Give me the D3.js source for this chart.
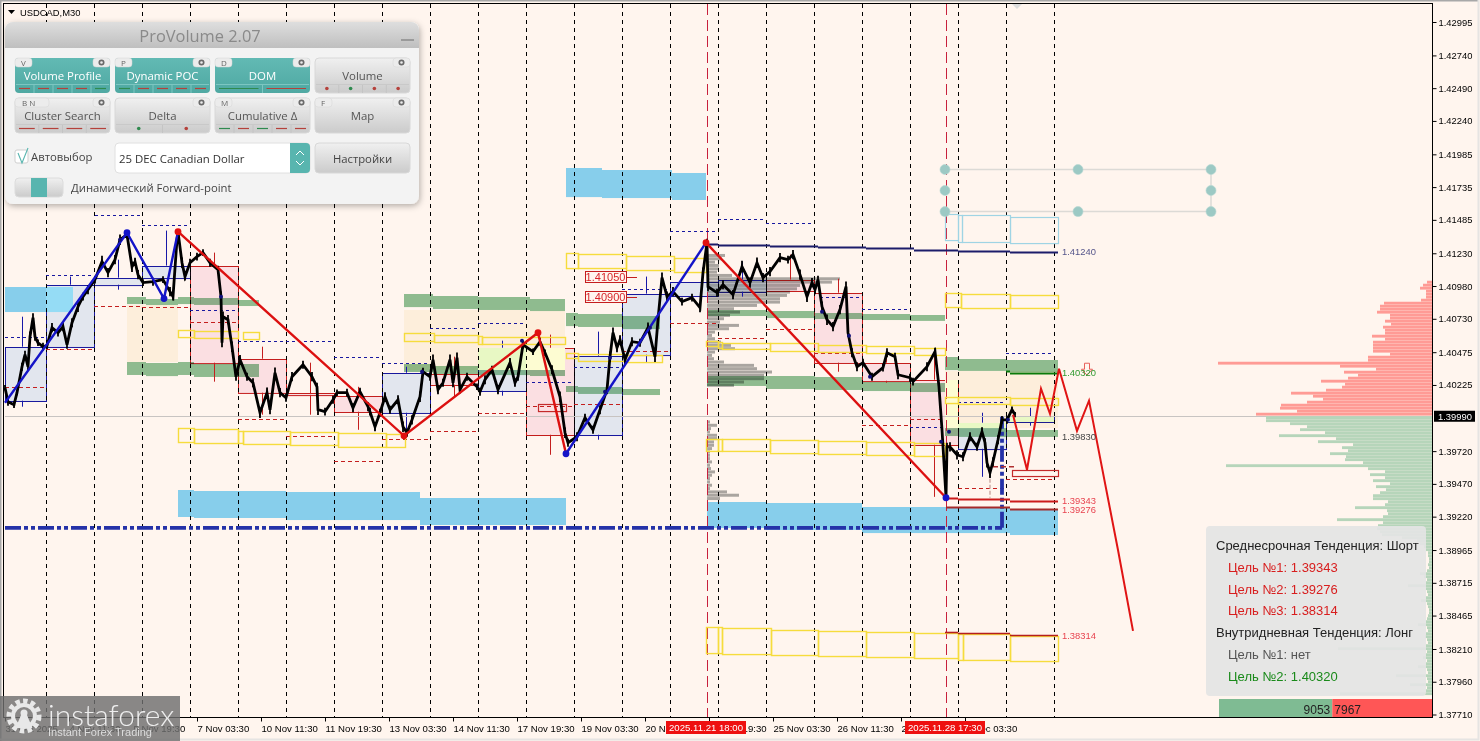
<!DOCTYPE html>
<html><head><meta charset="utf-8">
<script src="https://cdn.jsdelivr.net/npm/d3@7/dist/d3.min.js"></script>
<style>
html,body{margin:0;padding:0;background:#fff5ee;overflow:hidden}
svg{display:block}
text{font-family:"Liberation Sans",Arial,sans-serif}
.mul{mix-blend-mode:multiply}
</style></head><body>
<svg id="c" width="1480" height="741"></svg>
<script>
// ---------- axis values ----------
const priceTicks=[1.42995,1.42740,1.42490,1.42240,1.41985,1.41735,1.41485,1.41230,1.40980,1.40730,1.40475,1.40225,1.39720,1.39470,1.39220,1.38965,1.38715,1.38465,1.38210,1.37960,1.37710];
const timeTicks=[5,69,133,197,261,325,389,453,517,581,645,709,773,837,901,965];
const timeLabels=["31 Oct 2025","4 Nov 11:30","5 Nov 19:30","7 Nov 03:30","10 Nov 11:30","11 Nov 19:30","13 Nov 03:30","14 Nov 11:30","17 Nov 19:30","19 Nov 03:30","20 Nov 11:30","21 Nov 19:30","25 Nov 03:30","26 Nov 11:30","27 Nov 19:30","1 Dec 03:30"];
const dayBars=[46,94,142,190,238,286,334,382,430,478,526,574,622,670,718,766,814,862,910,958,1006,1054];
const markBars=[707,946];
const lastPrice=1.39990;
// ---------- price trace ----------
const closeBars=[5,8,14,17,22,25,28,30,33,35,38,43,47,52,58,63,67,72,78,83,88,95,102,108,115,120,127,132,135,138,143,153,163,170,173,177,178,182,185,190,197,203,210,218,221,222,223,228,232,236,240,247,253,260,267,270,275,280,286,292,303,312,317,318,325,333,337,347,353,360,368,370,375,380,385,390,398,403,407,412,420,423,430,433,438,443,450,453,457,460,467,477,480,485,492,498,510,515,518,523,533,540,545,552,560,565,568,577,585,593,600,607,610,613,617,620,625,632,640,648,655,658,662,667,673,682,692,700,703,707,708,717,723,733,742,750,757,763,770,780,788,793,800,807,812,815,818,822,827,833,840,846,848,852,857,863,872,883,887,895,898,910,913,927,935,939,942,946,947,950,957,963,970,977,982,985,987,990,993,998,1002,1007,1012,1015];
const closePrices=[1.40204,1.40097,1.40074,1.40166,1.40364,1.40456,1.40364,1.40593,1.40738,1.40593,1.40547,1.40517,1.40525,1.40662,1.40624,1.40670,1.40532,1.40700,1.40822,1.40899,1.40952,1.41029,1.41166,1.41082,1.41181,1.41334,1.41372,1.41128,1.41166,1.41067,1.41006,1.41013,1.41029,1.40937,1.40899,1.41334,1.41395,1.41158,1.41052,1.41158,1.41204,1.41235,1.41158,1.41105,1.40899,1.40547,1.40746,1.40723,1.40517,1.40288,1.40418,1.40288,1.40242,1.40013,1.40166,1.40036,1.40318,1.40166,1.40127,1.40288,1.40379,1.40288,1.40211,1.40036,1.40021,1.40112,1.40166,1.40166,1.40051,1.40173,1.40059,1.40021,1.39906,1.40013,1.40135,1.40036,1.40112,1.39906,1.39860,1.39959,1.40135,1.40326,1.40288,1.40418,1.40189,1.40242,1.40418,1.40242,1.40433,1.40189,1.40288,1.40211,1.40173,1.40265,1.40341,1.40189,1.40395,1.40242,1.40288,1.40532,1.40479,1.40555,1.40471,1.40341,1.40135,1.39860,1.39784,1.39830,1.39975,1.39883,1.40036,1.40189,1.40441,1.40624,1.40509,1.40570,1.40418,1.40555,1.40547,1.40662,1.40441,1.40723,1.41044,1.40899,1.40937,1.40861,1.40891,1.40815,1.41082,1.41311,1.40975,1.40929,1.40990,1.40914,1.41128,1.41006,1.41158,1.41044,1.41090,1.41197,1.41181,1.41220,1.41067,1.40899,1.41006,1.40952,1.41029,1.40822,1.40723,1.40670,1.40800,1.40975,1.40624,1.40471,1.40364,1.40395,1.40288,1.40357,1.40471,1.40441,1.40303,1.40280,1.40250,1.40364,1.40479,1.40211,1.39883,1.39371,1.39753,1.39753,1.39692,1.39677,1.39830,1.39753,1.39868,1.39784,1.39631,1.39555,1.39639,1.39807,1.39959,1.39959,1.40036,1.39998];
// half-height of the candle cluster at each trace point, in points of 0.00001
const clusterSpread=[20,30,25,20,30,30,25,40,35,30,25,30,25,35,30,35,30,35,40,30,35,30,45,35,35,40,30,40,30,35,25,30,25,35,30,40,20,40,30,30,30,25,30,30,40,35,40,35,40,30,35,30,35,40,40,35,40,35,30,35,30,35,30,40,30,30,25,30,35,30,35,30,35,30,35,30,35,40,30,35,40,30,30,40,35,30,40,35,40,30,30,25,30,35,30,35,35,30,30,30,25,30,25,35,40,40,30,35,30,30,35,35,40,40,35,35,40,35,30,40,40,45,40,40,35,30,30,35,40,30,35,30,35,35,45,40,40,35,35,35,30,35,40,40,35,35,30,40,40,35,35,40,30,35,35,30,30,30,35,30,35,30,30,35,30,30,30,20,30,35,35,35,35,30,35,35,35,40,35,35,30,30,25,20,10];
// ---------- session boxes [bar0,bar1,high,low] ----------
const blueBoxes=[[5,46,1.40517,1.40105],[46,94,1.40990,1.40517],[94,142,1.41044,1.40990],[142,190,1.41136,1.41044],[382,430,1.40318,1.40013],[478,526,1.40509,1.40181],[574,622,1.40448,1.39845],[622,670,1.40922,1.40456],[670,718,1.41013,1.40906],[718,766,1.41029,1.40937],[958,1006,1.39937,1.39738],[1006,1054,1.39982,1.39944]];
const redBoxes=[[190,238,1.41136,1.40395],[238,286,1.40425,1.40166],[286,334,1.40166,1.40150],[334,382,1.40143,1.40021],[430,478,1.40311,1.40227],[526,574,1.40509,1.39845],[766,814,1.41029,1.40945],[814,862,1.40929,1.40395],[862,910,1.40395,1.40257],[910,958,1.40265,1.39769]];
const blueWicks=[[22,1.40746,1.40517],[22,1.40105,1.40059],[70,1.41052,1.40990],[118,1.41181,1.41044],[118,1.40990,1.40952],[166,1.41403,1.41136],[406,1.40364,1.40318],[406,1.40013,1.39860],[502,1.40563,1.40509],[502,1.40181,1.40143],[598,1.40632,1.40448],[598,1.39845,1.39807],[646,1.41052,1.40922],[646,1.40456,1.40395],[742,1.41166,1.41029],[742,1.40937,1.40899],[982,1.40013,1.39937],[982,1.39738,1.39524],[1030,1.40051,1.39982],[1030,1.39944,1.39914]];
const redWicks=[[214,1.41235,1.41136],[214,1.40395,1.40250],[262,1.40517,1.40425],[262,1.40166,1.39998],[310,1.40395,1.40158],[310,1.40150,1.39998],[358,1.40211,1.40143],[358,1.40021,1.39883],[454,1.40441,1.40311],[454,1.40227,1.40135],[550,1.40609,1.40509],[550,1.39845,1.39692],[790,1.41220,1.41029],[838,1.41036,1.40929],[838,1.40395,1.40326],[886,1.40471,1.40395],[886,1.40257,1.40242],[934,1.40494,1.40265],[934,1.39769,1.39371]];
// ---------- dashed session levels [bar0,bar1,price] ----------
const blueDashes=[[5,45,1.40593],[46,94,1.41067],[95,142,1.41525],[142,190,1.41449],[190,238,1.40800],[238,334,1.40563],[334,382,1.40441],[382,430,1.40395],[430,478,1.40662],[478,526,1.40700],[526,574,1.40250],[574,622,1.40364],[622,670,1.40960],[670,718,1.41403],[718,766,1.41494],[766,814,1.41464],[820,860,1.40899],[862,910,1.40807],[910,944,1.39906],[958,1006,1.40097],[1006,1054,1.40471]];
const redDashes=[[5,46,1.40211],[46,94,1.40502],[94,142,1.40830],[142,190,1.40822],[190,238,1.40708],[238,286,1.39967],[286,334,1.39837],[334,382,1.39646],[382,430,1.39814],[430,478,1.39875],[478,526,1.40013],[526,574,1.40066],[574,622,1.40082],[622,670,1.40486],[670,718,1.40700],[718,766,1.40586],[766,814,1.40654],[814,862,1.40471],[862,910,1.39921],[910,944,1.39967],[958,1006,1.39440],[1006,1054,1.39509]];
// ---------- zones [bar0,bar1,high,low] ----------
const greenZones=[[127,146,1.40899,1.40845],[146,178,1.40884,1.40838],[178,194,1.40899,1.40845],[194,238,1.40891,1.40838],[238,259,1.40876,1.40830],[127,146,1.40402,1.40303],[146,178,1.40395,1.40295],[178,194,1.40402,1.40303],[194,238,1.40387,1.40288],[238,259,1.40387,1.40288],
[404,433,1.40922,1.40822],[433,478,1.40906,1.40807],[478,530,1.40899,1.40800],[530,565,1.40884,1.40792],[404,433,1.40387,1.40326],[433,478,1.40372,1.40311],[478,530,1.40357,1.40303],[530,565,1.40341,1.40295],
[566,578,1.40777,1.40677],[578,622,1.40769,1.40670],[622,660,1.40754,1.40654],[566,578,1.40219,1.40173],[578,622,1.40211,1.40158],[622,660,1.40196,1.40150],
[707,766,1.40800,1.40754],[766,815,1.40792,1.40738],[815,862,1.40777,1.40731],[862,910,1.40769,1.40723],[910,945,1.40761,1.40716],[707,766,1.40295,1.40219],[766,815,1.40295,1.40196],[815,862,1.40288,1.40189],[862,910,1.40250,1.40181],[910,945,1.40242,1.40173],
[945,958,1.40441,1.40341],[958,1006,1.40425,1.40334],[1006,1058,1.40418,1.40326],[945,958,1.39906,1.39837],[958,1006,1.39898,1.39830],[1006,1058,1.39883,1.39830]];
const creamZones=[[127,178,1.40838,1.40402],[404,530,1.40800,1.40341],[530,565,1.40792,1.40341],[945,1058,1.40334,1.39898]];
const skyZones=[[5,46,1.40975,1.40784],[566,602,1.41884,1.41662],[602,672,1.41869,1.41655],[672,706,1.41846,1.41640],[178,194,1.39425,1.39219],[194,286,1.39417,1.39211],[286,420,1.39410,1.39196],[420,566,1.39364,1.39158],[707,766,1.39333,1.39135],[766,862,1.39325,1.39119],[862,945,1.39295,1.39096],[945,1010,1.39295,1.39096],[1010,1058,1.39272,1.39081]];
// zone parts where a session box lies over it
const skyOverBlue=[[46,73,1.40975,1.40784]];
const limeOverBlue=[[478,526,1.40509,1.40341],[958,1006,1.39937,1.39898],[1006,1054,1.39982,1.39944]];
const paleOverRed=[[526,565,1.40509,1.40341],[945,958,1.40265,1.39898]];
const yellowBoxes=[[178,194,1.40647,1.40593],[194,238,1.40639,1.40586],[243,259,1.40632,1.40578],
[178,194,1.39898,1.39791],[194,238,1.39891,1.39784],[238,243,1.39875,1.39784],[243,290,1.39875,1.39776],[290,338,1.39868,1.39769],[338,386,1.39860,1.39754],[386,405,1.39853,1.39754],
[404,434,1.40624,1.40563],[434,478,1.40609,1.40555],[478,482,1.40601,1.40540],[482,565,1.40593,1.40540],
[566,578,1.41235,1.41120],[578,626,1.41227,1.41120],[626,674,1.41212,1.41105],[674,706,1.41197,1.41090],
[566,578,1.40471,1.40433],[578,626,1.40463,1.40410],[626,662,1.40456,1.40402],
[706,718,1.40563,1.40525],[718,722,1.40555,1.40509],[722,770,1.40547,1.40502],[770,818,1.40547,1.40486],[818,866,1.40532,1.40479],[866,914,1.40525,1.40471],[914,945,1.40509,1.40456],
[706,718,1.39814,1.39723],[718,722,1.39814,1.39723],[722,770,1.39814,1.39723],[770,818,1.39807,1.39707],[818,866,1.39799,1.39700],[866,914,1.39791,1.39692],[914,945,1.39784,1.39685],
[945,961,1.40929,1.40822],[961,1010,1.40922,1.40815],[1010,1058,1.40914,1.40815],
[945,958,1.40135,1.40089],[958,1010,1.40135,1.40082],[1010,1058,1.40127,1.40074],
[706,718,1.38379,1.38180],[718,722,1.38379,1.38180],[722,771,1.38371,1.38172],[771,818,1.38356,1.38165],[818,866,1.38348,1.38157],[866,914,1.38340,1.38149],[914,958,1.38333,1.38142],[958,963,1.38325,1.38127],[963,1010,1.38325,1.38127],[1010,1058,1.38310,1.38119]];
const paleBlueBoxes=[[945,958,1.41533,1.41334],[958,962,1.41525,1.41319],[962,1010,1.41525,1.41319],[1010,1058,1.41510,1.41311]];
const hollowRedBoxes=[[538,566,1.40082,1.40028],[1012,1058,1.39578,1.39532]];
// ---------- target levels [bar0,bar1,price] ----------
const navyLevel=[[706,718,1.41304],[718,770,1.41296],[770,818,1.41288],[818,866,1.41281],[866,914,1.41273],[914,958,1.41258],[958,1010,1.41250],[1010,1058,1.41240]];
const target1Level=[[946,958,1.39364],[958,1010,1.39356],[1010,1058,1.39343]];
const target2Level=[[946,958,1.39295],[958,1010,1.39290],[1010,1058,1.39276]];
const target3Level=[[945,958,1.38340],[958,1010,1.38333],[1010,1058,1.38314]];
const greenLevel=[[1006,1010,1.40334],[1010,1058,1.40320]];
const levelLabels=[["1.41240",1.41240,"#55558a"],["1.40320",1.40320,"#2f9a2f"],["1.39830",1.39830,"#444444"],["1.39343",1.39343,"#e8434f"],["1.39276",1.39276,"#e8434f"],["1.38314",1.38314,"#e8434f"]];
// ---------- wave structure ----------
const waveBlue1=[[5,1.40089],[127,1.41387],[164,1.40884],[178,1.41395]];
const waveRed1=[[178,1.41395],[404,1.39837],[538,1.40624],[566,1.39700]];
const waveBlue2=[[566,1.39700],[706,1.41311]];
const waveRed2=[[706,1.41311],[946,1.39364]];
const forecast=[[1013,1.39998],[1027,1.39578],[1041,1.40196],[1050,1.40005],[1059,1.40349],[1077,1.39875],[1089,1.40105],[1118,1.38965],[1133,1.38348]];
const waveDotsBlue=[[127,1.41387],[164,1.40884],[566,1.39700],[946,1.39364]];
const waveDotsRed=[[178,1.41395],[404,1.39837],[538,1.40624],[706,1.41311]];
const smallDots=[[120,1.41334],[221,1.40899],[422,1.40326],[522,1.40563],[605,1.40173],[610,1.40433],[650,1.40662],[822,1.40784],[849,1.40601],[870,1.40288],[941,1.39791],[949,1.39868],[1008,1.39959]];
// ---------- volume profiles ----------
const redVols=[176,135,152,151,125,109,119,141,106,90,87,111,84,74,88,56,92,214,64,64,42,59,59,59,59,47,60,47,47,49,41,47,42,42,55,52,52,48,11,6,6,6,12,9,5];
const greenVols=[166,166,142,125,132,107,153,96,114,79,90,84,102,86,87,69,206,64,47,62,47,59,42,56,46,52,59,59,44,47,77,45,44,49,95,49,54,55,52,50,30,15,12,8,6,4,4,3,3,4,3,5,12,8,5,6,24,6,5,4,6,11,5,4,3,3,4,5,6,14,5,4,6,7,5,4,6,94,5,6,9,5,6,14,5,4,36,5,4,22,5,6,92];
const grayVols=[18,15,8,12,12,10,25,133,125,93,90,83,80,73,73,50,27,33,23,17,13,32,22,8,5,8,14,24,28,8,5,7,17,47,50,65,57,57,37,27,0,0,0,0,0,0,0,0,0,0,3,10,4,3,10,10,7,7,5,3,3,3,5,3,4,8,5,3,3,5,3,20,32,13];
const buyVolume=9053, sellVolume=7967;
// ---------- info text ----------
const infoLines=[["Среднесрочная Тенденция: Шорт","#222",0],["Цель №1: 1.39343","#d81e1e",1],["Цель №2: 1.39276","#d81e1e",1],["Цель №3: 1.38314","#d81e1e",1],["Внутридневная Тенденция: Лонг","#222",0],["Цель №1: нет","#555",1],["Цель №2: 1.40320","#1a8a1a",1]];

// ---------- scales ----------
const svg=d3.select("#c");
const x=d3.scaleLinear().domain([5,1432]).range([5,1432]);
const y=d3.scaleLinear().domain([1.37710,1.42995]).range([714.5,22]);
const priceStep=(y.domain()[1]-y.domain()[0])/(y.range()[0]-y.range()[1])*3;
const volX=d3.scaleLinear().domain([0,300]).range([0,300]);
const splitX=d3.scaleLinear().domain([0,buyVolume+sellVolume]).range([1219,1432]);

function rects(g,data,fill,stroke,sw,cls){
  g.selectAll(null).data(data).join("rect").attr("class",cls||null)
   .attr("x",d=>x(d[0])+(stroke?.5:0)).attr("y",d=>Math.round(y(d[2]))+(stroke?.5:0))
   .attr("width",d=>x(d[1])-x(d[0])).attr("height",d=>y(d[3])-y(d[2]))
   .attr("fill",fill).attr("stroke",stroke||"none").attr("stroke-width",sw||0);
}
function hlines(g,data,color,sw,dash){
  g.selectAll(null).data(data).join("line")
   .attr("x1",d=>x(d[0])).attr("x2",d=>x(d[1]))
   .attr("y1",d=>Math.round(y(d[2]))+.5).attr("y2",d=>Math.round(y(d[2]))+.5)
   .attr("stroke",color).attr("stroke-width",sw).attr("stroke-dasharray",dash||null);
}
function wicks(g,data,color){
  g.selectAll(null).data(data).join("line")
   .attr("x1",d=>x(d[0])+.5).attr("x2",d=>x(d[0])+.5)
   .attr("y1",d=>y(d[1])).attr("y2",d=>y(d[2]))
   .attr("stroke",color).attr("stroke-width",1);
}
const line=d3.line().x(d=>x(d[0])).y(d=>y(d[1]));

svg.append("rect").attr("width",1480).attr("height",741).attr("fill","#fff5ee");
const plot=svg.append("g");

// zones
rects(plot.append("g"),creamZones,"#fdeedb");
rects(plot.append("g"),skyZones,"#87ceeb");
// internal profile
const gray=plot.append("g");
gray.selectAll("rect").data(grayVols).join("rect")
  .attr("x",x(707)).attr("y",(d,i)=>y(1.41240)+2+i*3.33).attr("width",d=>volX(d)).attr("height",3)
  .attr("fill","#aaa5a0");
rects(plot.append("g").attr("class","mul"),greenZones,"#8fc399");

// session boxes
const boxG=plot.append("g");
rects(boxG,blueBoxes,"#e2f0ff","#1818a8",1,"mul");
rects(boxG,redBoxes,"#fbe9f3","#c41e1e",1,"mul");
rects(plot.append("g"),skyOverBlue,"#95dcf5");
rects(plot.append("g"),limeOverBlue,"#e8f8c4");
rects(plot.append("g"),paleOverRed,"#fdfcd2");
wicks(boxG,blueWicks,"#1818a8");
wicks(boxG,redWicks,"#c41e1e");

// current price line
plot.append("line").attr("x1",5).attr("x2",1432).attr("y1",Math.round(y(lastPrice))+.5).attr("y2",Math.round(y(lastPrice))+.5).attr("stroke","#c8c4c2");

// day separators
plot.append("g").selectAll("line").data(dayBars).join("line")
  .attr("x1",d=>x(d)+.5).attr("x2",d=>x(d)+.5).attr("y1",4).attr("y2",717)
  .attr("stroke","#000").attr("stroke-dasharray","4 4");
plot.append("g").selectAll("line").data(markBars).join("line")
  .attr("x1",d=>x(d)+.5).attr("x2",d=>x(d)+.5).attr("y1",4).attr("y2",717)
  .attr("stroke","#c8203c").attr("stroke-dasharray","11 5").attr("stroke-width",1);

// dashed session levels
hlines(plot.append("g"),blueDashes,"#1818a0",1,"3 3");
hlines(plot.append("g"),redDashes,"#c41e1e",1,"4 3");

// outlines
rects(plot.append("g"),yellowBoxes,"none","#f6dc3c",1.4);
rects(plot.append("g"),paleBlueBoxes,"none","#9fd4e4",1.2);
rects(plot.append("g"),hollowRedBoxes,"none","#c42a2a",1.2);

// big dash-dot support
plot.append("line").attr("x1",x(5)).attr("x2",x(1002)).attr("y1",y(1.39135)).attr("y2",y(1.39135))
  .attr("stroke","#2532a8").attr("stroke-width",3.8).attr("stroke-dasharray","16 3 4 3 4 3");
plot.append("line").attr("x1",x(1002)).attr("x2",x(1002)).attr("y1",y(1.39135)).attr("y2",y(1.39982))
  .attr("stroke","#2532a8").attr("stroke-width",3.8).attr("stroke-dasharray","16 3 4 3 4 3");

// short dashed marks near end
plot.append("line").attr("x1",x(993)).attr("x2",x(1016)).attr("y1",y(1.39601)).attr("y2",y(1.39601)).attr("stroke","#b03030").attr("stroke-width",1.4).attr("stroke-dasharray","5 3");
plot.append("line").attr("x1",x(990)).attr("x2",x(990)).attr("y1",y(1.39601)).attr("y2",y(1.39364)).attr("stroke","#c9a6a0").attr("stroke-width",1.4).attr("stroke-dasharray","4 2");

// candles trace
const closeSeries=d3.zip(closeBars,closePrices);
plot.append("g").selectAll("line").data(d3.zip(closeBars,closePrices,clusterSpread)).join("line")
  .attr("x1",d=>x(d[0])).attr("x2",d=>x(d[0]))
  .attr("y1",d=>y(d[1]+d[2]*0.00001)).attr("y2",d=>y(d[1]-d[2]*0.00001))
  .attr("stroke","#000").attr("stroke-width",1.8);
plot.append("path").attr("d",line(closeSeries)).attr("fill","none").attr("stroke","#000").attr("stroke-width",2.8).attr("stroke-linejoin","miter");

// target levels
hlines(plot.append("g"),navyLevel,"#1c1c6a",2);
hlines(plot.append("g"),target1Level,"#cc1a1a",2);
hlines(plot.append("g"),target2Level,"#a52a2a",2);
hlines(plot.append("g"),target3Level,"#b51e1e",1.6);
hlines(plot.append("g"),greenLevel,"#0a7a0a",2);

// waves
[[waveBlue1,"#1414c8"],[waveBlue2,"#1414c8"],[waveRed1,"#dc1010"],[waveRed2,"#dc1010"]].forEach(([d,c])=>{
  plot.append("path").attr("d",line(d)).attr("fill","none").attr("stroke",c).attr("stroke-width",2.4);
});
plot.append("path").attr("d",line(forecast)).attr("fill","none").attr("stroke","#e01414").attr("stroke-width",2);
plot.append("g").selectAll("circle").data(smallDots).join("circle").attr("cx",d=>x(d[0])).attr("cy",d=>y(d[1])).attr("r",2).attr("fill","#10107a");
plot.append("g").selectAll("circle").data(waveDotsBlue).join("circle").attr("cx",d=>x(d[0])).attr("cy",d=>y(d[1])).attr("r",3.4).attr("fill","#1414c8");
plot.append("g").selectAll("circle").data(waveDotsRed).join("circle").attr("cx",d=>x(d[0])).attr("cy",d=>y(d[1])).attr("r",3.4).attr("fill","#e01010");

// arrow
const ax=x(1087), ay=y(1.40345);
plot.append("path").attr("d",`M${ax-2.5},${ay-6}h5v6h3l-5.5,6l-5.5,-6h3z`).attr("fill","#fff5ee").attr("stroke","#e8605a").attr("stroke-width",1);

// price tags
const tags=[["1.41050",1.41050],["1.40900",1.40900]];
const tagG=plot.append("g");
tags.forEach(([t,p])=>{
  const yy=Math.round(y(p));
  tagG.append("rect").attr("x",x(585)+.5).attr("y",yy-5.5).attr("width",41).attr("height",11).attr("fill","#fff5ee").attr("stroke","#c41e1e");
  tagG.append("line").attr("x1",x(626)).attr("x2",x(637)).attr("y1",yy+.5).attr("y2",yy+.5).attr("stroke","#c41e1e");
  tagG.append("text").attr("x",x(605.5)).attr("y",yy+4).attr("text-anchor","middle").attr("font-size",11).attr("fill","#d8262a").text(t);
});

// level labels
plot.append("g").selectAll("text").data(levelLabels).join("text")
  .attr("x",x(1062)).attr("y",d=>y(d[1])+3.5).attr("font-size",9.4).attr("fill",d=>d[2]).text(d=>d[0]);

// selection frame
const hc="#9cc9c4";
const hTop=y(1.41869), hMid=y(1.41709), hBot=y(1.41548);
plot.append("path").attr("d",`M${x(945)},${hTop}H${x(1211)}V${hBot}H${x(945)}`).attr("fill","none").attr("stroke","#dcdad6").attr("stroke-width",1.5);
[[945,hTop],[1078,hTop],[1211,hTop],[945,hMid],[1211,hMid],[945,hBot],[1078,hBot],[1211,hBot]].forEach(([a,b])=>{
  plot.append("circle").attr("cx",x(a)).attr("cy",b).attr("r",5).attr("fill",hc).attr("stroke","#b6d6d2").attr("stroke-width",.6);
});
plot.append("path").attr("d","M1011,3h12l-6,6z").attr("fill","#dcdcdc");

// right volume profile
const profR=svg.append("g");
const y0=y(lastPrice);
profR.selectAll(null).data(redVols).join("rect")
  .attr("x",d=>1432-volX(d)).attr("y",(d,i)=>y(lastPrice+(i+1)*priceStep)).attr("width",d=>volX(d)).attr("height",2.85).attr("fill","#ff9b95");
profR.selectAll(null).data(greenVols).join("rect")
  .attr("x",d=>1432-volX(d)).attr("y",(d,i)=>y(lastPrice-i*priceStep)+.5).attr("width",d=>volX(d)).attr("height",2.85).attr("fill","#b6d5ba");

// frame and axes
svg.append("rect").attr("x",3.5).attr("y",3.5).attr("width",1429).attr("height",714).attr("fill","none").attr("stroke","#000");
svg.append("path").attr("d","M0.5,741V0.5H1479").attr("fill","none").attr("stroke","#a8a8a8").attr("stroke-width",2);
svg.append("path").attr("d","M1478.5,0V739.5H0").attr("fill","none").attr("stroke","#e6e4e2").attr("stroke-width",2);

const yAxis=d3.axisRight(y).tickValues(priceTicks).tickFormat(d3.format(".5f")).tickSize(4).tickPadding(2);
const ya=svg.append("g").attr("transform","translate(1432.5,0)").call(yAxis);
ya.select(".domain").remove();
ya.selectAll("text").attr("font-family","Liberation Sans").attr("font-size",9.4).attr("fill","#000");
ya.selectAll("line").attr("stroke","#000");

const xAxis=d3.axisBottom(x).tickValues(timeTicks).tickFormat((d,i)=>timeLabels[i]).tickSize(4).tickPadding(2);
const xa=svg.append("g").attr("transform","translate(0,717.5)").call(xAxis);
xa.select(".domain").remove();
xa.selectAll("text").attr("font-family","Liberation Sans").attr("font-size",9.6).attr("fill","#000").attr("text-anchor","start").attr("dy","0.9em");
xa.selectAll("line").attr("stroke","#000");

// tags on axes
svg.append("rect").attr("x",1434).attr("y",y0-5).attr("width",41).attr("height",11).attr("fill","#000");
svg.append("text").attr("x",1438).attr("y",y0+4).attr("font-size",9.4).attr("fill","#fff").text("1.39990");
[[666,"2025.11.21 18:00"],[905,"2025.11.28 17:30"]].forEach(([a,t])=>{
  svg.append("rect").attr("x",a).attr("y",721).attr("width",80).attr("height",13).attr("fill","#ee1010");
  svg.append("text").attr("x",a+40).attr("y",731).attr("text-anchor","middle").attr("font-size",9.6).attr("fill","#fff").text(t);
});

// defs
const defs=svg.append("defs");
const f=defs.append("filter").attr("id","sh").attr("x","-5%").attr("y","-5%").attr("width","110%").attr("height","115%");
f.append("feDropShadow").attr("dx",1).attr("dy",2).attr("stdDeviation",3).attr("flood-color","#000").attr("flood-opacity",.3);
function grad(id,a,b){const g=defs.append("linearGradient").attr("id",id).attr("x1",0).attr("y1",0).attr("x2",0).attr("y2",1);g.append("stop").attr("offset",0).attr("stop-color",a);g.append("stop").attr("offset",1).attr("stop-color",b);}
grad("gT","#dedede","#bfbfbf");grad("gB","#f0f0f0","#cbcbcb");grad("gG","#62bab4","#4fa8a2");

// ProVolume panel
const P=svg.append("g");
const tx=(g,a,b,t,s,c,an)=>g.append("text").attr("x",a).attr("y",b).attr("font-size",s).attr("fill",c).attr("text-anchor",an||"start").style("font-family","'Open Sans',sans-serif").text(t);
P.append("rect").attr("x",5).attr("y",22).attr("width",414).attr("height",182).attr("rx",8).attr("fill","#f3f3f3").attr("filter","url(#sh)");
P.append("path").attr("d","M5,48V30a8,8 0 0 1 8,-8H411a8,8 0 0 1 8,8V48z").attr("fill","url(#gT)");
tx(P,200,42,"ProVolume 2.07",16.4,"#8a8a8a","middle");
P.append("rect").attr("x",401).attr("y",39).attr("width",13).attr("height",2).attr("fill","#9a9a9a");
const btns=[
 {x:15,y:58,t:"Volume Profile",key:"V",on:1,seg:["r","r","r","r","g"]},
 {x:115,y:58,t:"Dynamic POC",key:"P",on:1,seg:["g","r","r","r","r"]},
 {x:215,y:58,t:"DOM",key:"D",on:1,seg:["g","r"]},
 {x:315,y:58,t:"Volume",key:"",on:0,dots:["r","g","r","r"]},
 {x:15,y:98,t:"Cluster Search",key:"B  N",on:0,seg:["r","r","r","r"]},
 {x:115,y:98,t:"Delta",key:"",on:0,dots:["g","r"]},
 {x:215,y:98,t:"Cumulative Δ",key:"M",on:0,seg:["g","r","g","r","r"]},
 {x:315,y:98,t:"Map",key:"F",on:0}
];
const colR="#b5413b", colG="#2f8a4f";
btns.forEach(b=>{
  const g=P.append("g"), w=95,h=35;
  g.append("rect").attr("x",b.x).attr("y",b.y).attr("width",w).attr("height",h).attr("rx",4).attr("fill",b.on?"url(#gG)":"url(#gB)").attr("stroke",b.on?"none":"#d8d8d8");
  if(b.key){
    g.append("rect").attr("x",b.x).attr("y",b.y).attr("width",b.key.length>1?34:17).attr("height",9).attr("rx",3).attr("fill","#ececec").attr("stroke","#d4d4d4").attr("stroke-width",.5);
    tx(g,b.x+(b.key.length>1?7:6),b.y+8,b.key,8,"#666");
  }
  g.append("rect").attr("x",b.x+w-17).attr("y",b.y).attr("width",17).attr("height",9).attr("rx",3).attr("fill","#ececec").attr("stroke","#d4d4d4").attr("stroke-width",.5);
  g.append("circle").attr("cx",b.x+w-8.5).attr("cy",b.y+4.5).attr("r",2.2).attr("fill","none").attr("stroke","#6a6a6a").attr("stroke-width",1.7);
  tx(g,b.x+w/2,b.y+22,b.t,11.4,b.on?"#fff":"#555","middle");
  const n=(b.seg||b.dots||[]).length;
  if(n){
    const sw=w/n;
    (b.seg||b.dots).forEach((c,i)=>{
      const col=c=="r"?colR:colG, sx=b.x+sw*i;
      if(b.seg) g.append("line").attr("x1",sx+4).attr("x2",sx+sw-4).attr("y1",b.y+30.5).attr("y2",b.y+30.5).attr("stroke",col).attr("stroke-width",1.2);
      else g.append("circle").attr("cx",sx+sw/2).attr("cy",b.y+30.5).attr("r",1.8).attr("fill",col);
      if(i) g.append("line").attr("x1",sx).attr("x2",sx).attr("y1",b.y+27).attr("y2",b.y+35).attr("stroke",b.on?"#7cc6c1":"#c4c4c4");
    });
    g.append("line").attr("x1",b.x+1).attr("x2",b.x+w-1).attr("y1",b.y+26.5).attr("y2",b.y+26.5).attr("stroke",b.on?"#7cc6c1":"#c9c9c9");
  }
});
// checkbox
P.append("rect").attr("x",15).attr("y",150).attr("width",13).attr("height",13).attr("rx",2).attr("fill","#fff").attr("stroke","#cfcfcf");
P.append("path").attr("d","M18,153l4,10l6,-15").attr("fill","none").attr("stroke","#58b5af").attr("stroke-width",1.1);
tx(P,31,161,"Автовыбор",11.3,"#444");
// combobox
P.append("rect").attr("x",115).attr("y",143).attr("width",195).attr("height",30).attr("rx",4).attr("fill","#fff").attr("stroke","#e0e0e0");
P.append("path").attr("d","M290,143h16a4,4 0 0 1 4,4v22a4,4 0 0 1 -4,4h-16z").attr("fill","#58b5af");
P.append("path").attr("d","M296,155l4,-4l4,4M296,161l4,4l4,-4").attr("fill","none").attr("stroke","#fff").attr("stroke-width",1);
tx(P,119,163,"25 DEC Canadian Dollar",11.4,"#333");
P.append("rect").attr("x",315).attr("y",143).attr("width",95).attr("height",30).attr("rx",4).attr("fill","url(#gB)").attr("stroke","#d8d8d8");
tx(P,362.5,163,"Настройки",11.3,"#444","middle");
// toggle
P.append("rect").attr("x",15).attr("y",178).attr("width",48).attr("height",19).attr("rx",4).attr("fill","url(#gB)").attr("stroke","#dcdcdc");
P.append("rect").attr("x",31).attr("y",178).attr("width",16).attr("height",19).attr("fill","#58b5af");
tx(P,71,192,"Динамический Forward-point",11.3,"#444");

// symbol title
svg.append("path").attr("d","M8,10h7l-3.5,4z").attr("fill","#000");
svg.append("text").attr("x",20).attr("y",15.5).attr("font-size",9.4).attr("fill","#000").text("USDCAD,M30");

// info panel
const I=svg.append("g");
I.append("rect").attr("x",1206).attr("y",526).attr("width",220).attr("height",170).attr("rx",4).attr("fill","#e4e4e4").attr("fill-opacity",.92);
I.selectAll("text").data(infoLines).join("text")
 .attr("x",d=>d[2]?1228:1216).attr("y",(d,i)=>550+i*21.8).attr("font-size",13).attr("fill",d=>d[1]).text(d=>d[0]);

// buy / sell split
svg.append("rect").attr("x",splitX(0)).attr("y",699).attr("width",splitX(buyVolume)-splitX(0)).attr("height",18).attr("fill","#7fbb93");
svg.append("rect").attr("x",splitX(buyVolume)).attr("y",699).attr("width",splitX(buyVolume+sellVolume)-splitX(buyVolume)).attr("height",18).attr("fill","#ff5656");
svg.append("text").attr("x",splitX(buyVolume)-2).attr("y",714).attr("text-anchor","end").attr("font-size",12).attr("fill","#222").text(buyVolume);
svg.append("text").attr("x",splitX(buyVolume)+2).attr("y",714).attr("font-size",12).attr("fill","#222").text(sellVolume);

// logo
const L=svg.append("g");
L.append("rect").attr("x",0).attr("y",696).attr("width",180).attr("height",45).attr("fill","#6f6f6f").attr("fill-opacity",.82);
L.append("circle").attr("cx",24).attr("cy",716).attr("r",15).attr("fill","none").attr("stroke","#e8e8e8").attr("stroke-width",5).attr("stroke-dasharray","4.5 3.2");
L.append("circle").attr("cx",24).attr("cy",716).attr("r",11).attr("fill","none").attr("stroke","#e8e8e8").attr("stroke-width",4);
L.append("circle").attr("cx",24).attr("cy",713).attr("r",3.5).attr("fill","#e8e8e8");
L.append("path").attr("d","M21.5,714l-6,14h17l-6,-14z").attr("fill","#e8e8e8");
L.append("text").attr("x",48).attr("y",726).attr("font-size",30).attr("fill","#eee").style("font-family","Lato,'Open Sans',sans-serif").style("font-weight",300).text("instaforex");
L.append("text").attr("x",48).attr("y",736).attr("font-size",11).attr("fill","#ddd").text("Instant Forex Trading");
</script>
</body></html>
